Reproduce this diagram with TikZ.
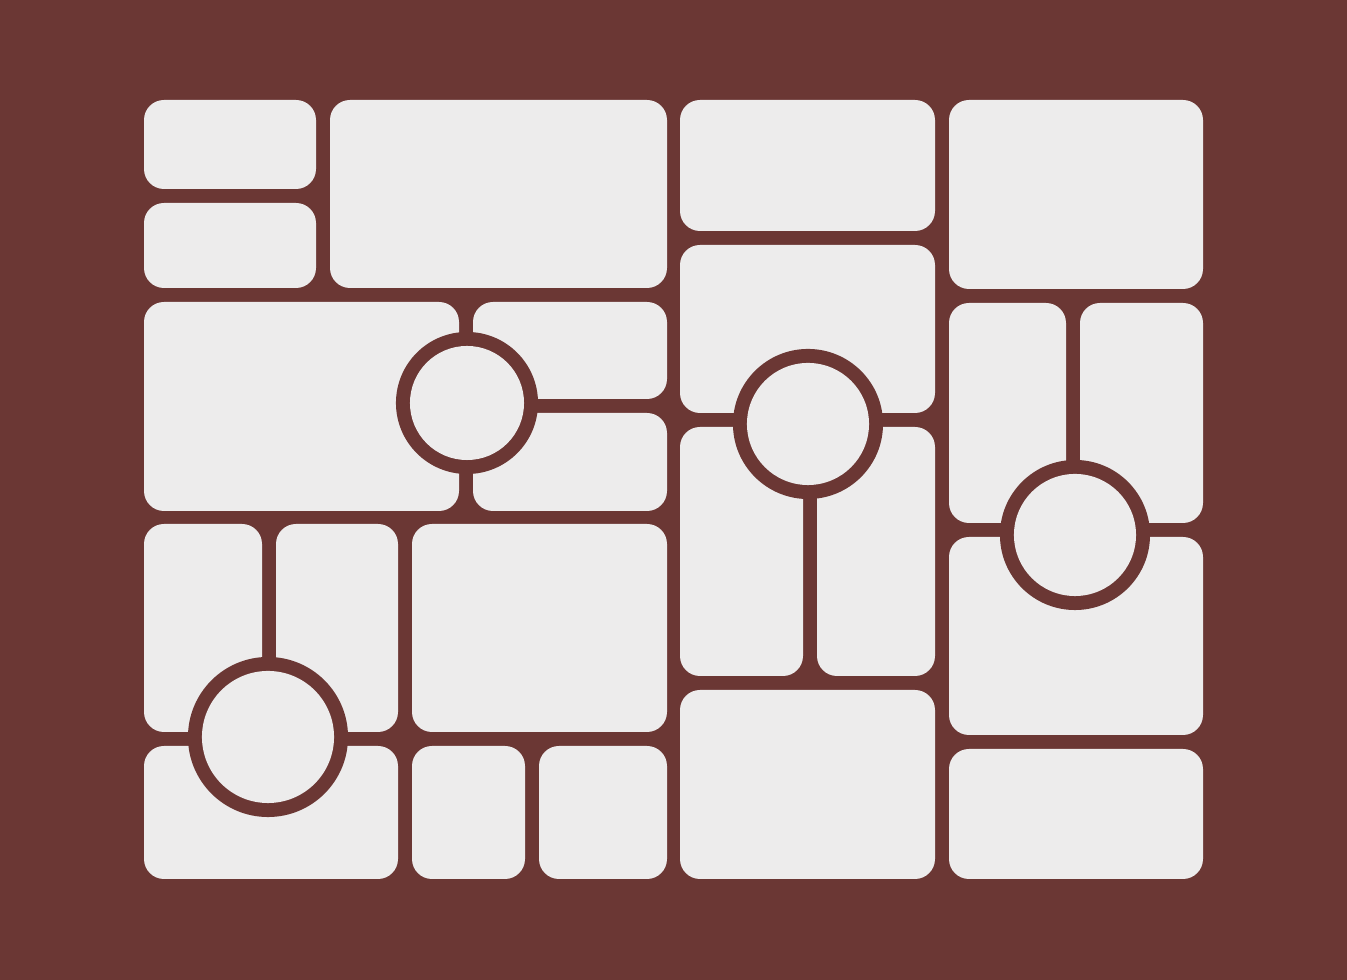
\documentclass[tikz,border=0pt]{standalone}
\usepackage{tikz}
\usetikzlibrary{calc,positioning}
\definecolor{frame}{RGB}{107,55,52}
\definecolor{panel}{RGB}{237,236,236}
\tikzset{
	x=0.01cm, y=-0.01cm,
	tile/.style={fill=panel, rounded corners=0.2cm},
	ring/.style={fill=frame},
	hole/.style={fill=panel},
}
\begin{document}
\begin{tikzpicture}
        \fill[frame] (0,0) rectangle (1347,980);
        \useasboundingbox (0,0) rectangle (1347,980);

        % left block, top
        \fill[tile] (144,100) rectangle (316,189);
        \fill[tile] (144,203) rectangle (316,288);
        \fill[tile] (330,100) rectangle (667,288);
        \fill[tile] (144,302) rectangle (459,511);
        \fill[tile] (473,302) rectangle (667,399);
        \fill[tile] (473,413) rectangle (667,511);

        % left block, bottom
        \fill[tile] (144,524) rectangle (262,732);
        \fill[tile] (276,524) rectangle (398,732);
        \fill[tile] (412,524) rectangle (667,732);
        \fill[tile] (144,746) rectangle (398,879);
        \fill[tile] (412,746) rectangle (525,879);
        \fill[tile] (539,746) rectangle (667,879);

        % third column
        \fill[tile] (680,100) rectangle (935,231);
        \fill[tile] (680,245) rectangle (935,413);
        \fill[tile] (680,427) rectangle (803,676);
        \fill[tile] (817,427) rectangle (935,676);
        \fill[tile] (680,690) rectangle (935,879);

        % fourth column
        \fill[tile] (949,100) rectangle (1203,289);
        \fill[tile] (949,303) rectangle (1066,523);
        \fill[tile] (1080,303) rectangle (1203,523);
        \fill[tile] (949,537) rectangle (1203,735);
        \fill[tile] (949,749) rectangle (1203,879);

        % round frames
        \fill[ring] (467,403) circle (0.71cm);
        \fill[hole] (467,403) circle (0.57cm);
        \fill[ring] (268,737) circle (0.80cm);
        \fill[hole] (268,737) circle (0.66cm);
        \fill[ring] (808,424) circle (0.75cm);
        \fill[hole] (808,424) circle (0.61cm);
        \fill[ring] (1075,535) circle (0.75cm);
        \fill[hole] (1075,535) circle (0.61cm);
\end{tikzpicture}
\end{document}
